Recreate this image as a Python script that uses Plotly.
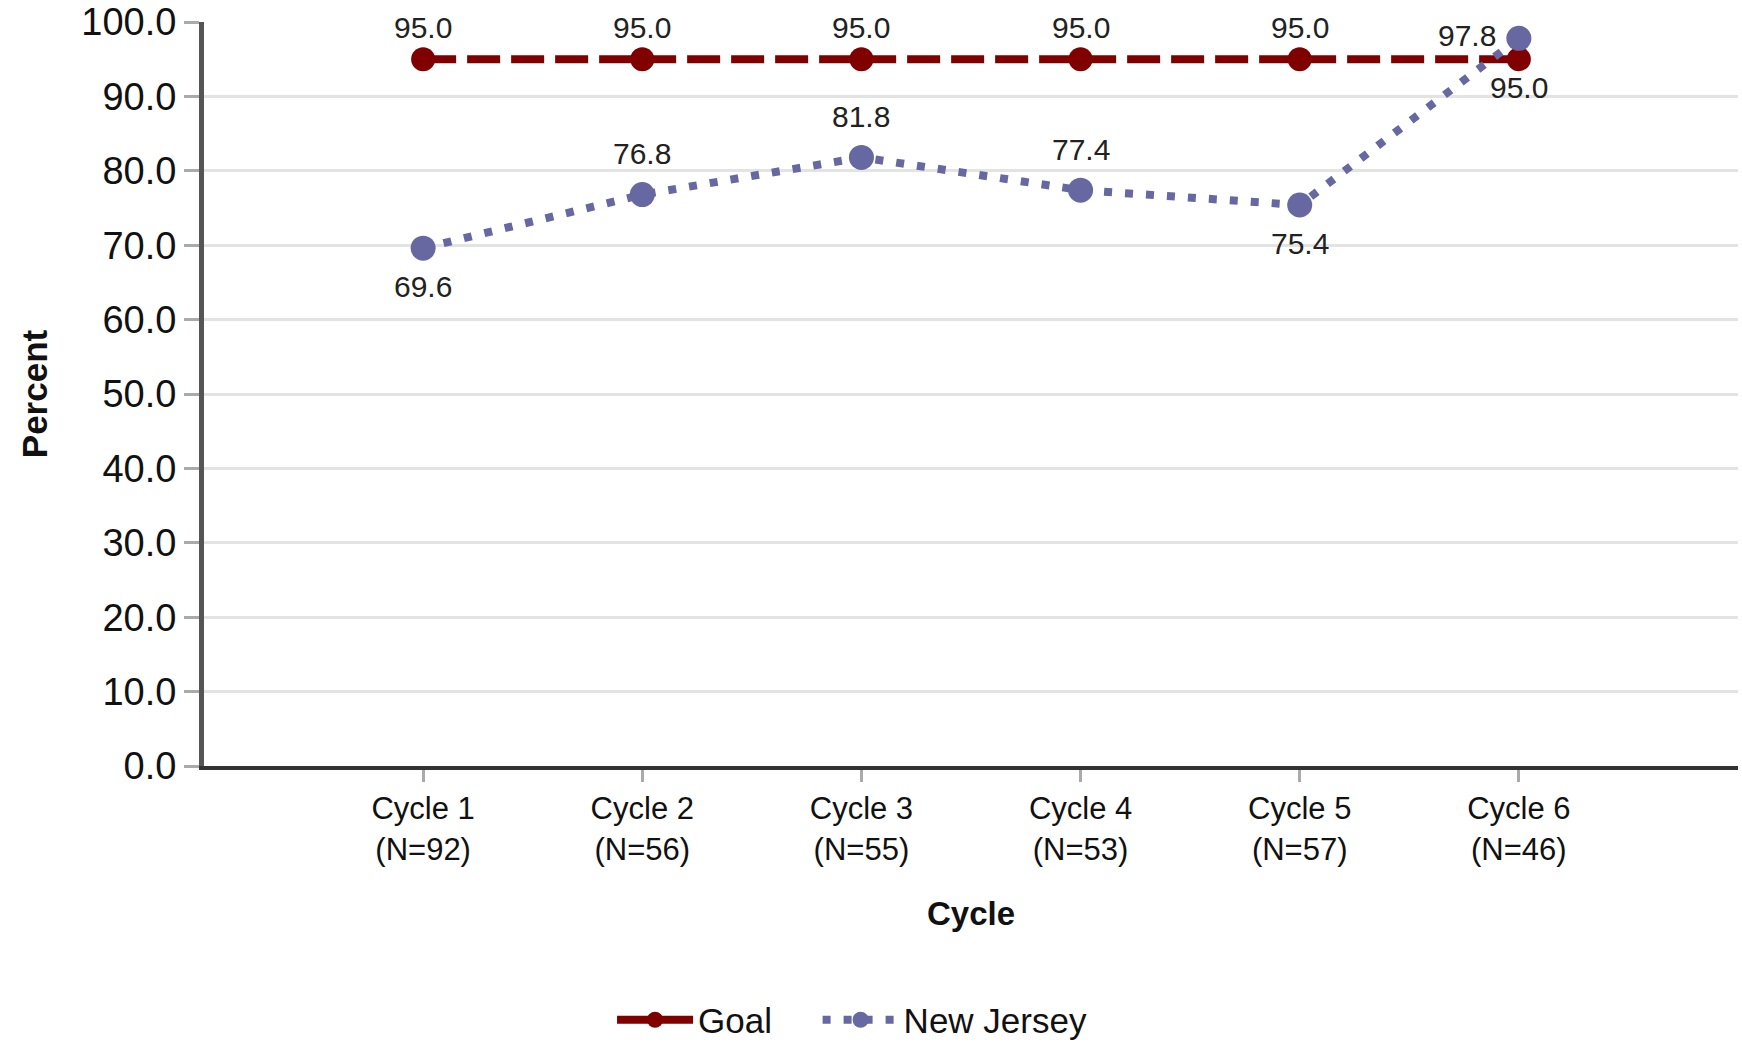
import plotly.graph_objects as go

categories = ["Cycle 1<br>(N=92)", "Cycle 2<br>(N=56)", "Cycle 3<br>(N=55)",
              "Cycle 4<br>(N=53)", "Cycle 5<br>(N=57)", "Cycle 6<br>(N=46)"]
goal_values = [95.0, 95.0, 95.0, 95.0, 95.0, 95.0]
nj_values = [69.6, 76.8, 81.8, 77.4, 75.4, 97.8]
y_ticks = [0, 10, 20, 30, 40, 50, 60, 70, 80, 90, 100]

GOAL_COLOR = "#800000"
NJ_COLOR = "#6767a1"
FONT = "Liberation Sans, Arial, sans-serif"
LABEL_SIZE = 30

# label placement (pixel offsets from the point): (xshift, yshift)
goal_offsets = [(0, 32)] * 5 + [(0, -28)]
nj_offsets = [(0, -38), (0, 41), (0, 41), (0, 41), (0, -38), (-52, 3)]

fig = go.Figure()
fig.add_trace(go.Scatter(
    x=categories, y=goal_values, name="Goal", mode="lines+markers",
    line=dict(color=GOAL_COLOR, width=8, dash="33px,11px"),
    marker=dict(color=GOAL_COLOR, size=24),
    cliponaxis=False, legend="legend",
))
fig.add_trace(go.Scatter(
    x=categories, y=nj_values, name="New Jersey", mode="lines+markers",
    line=dict(color=NJ_COLOR, width=8, dash="8px,13px"),
    marker=dict(color=NJ_COLOR, size=25),
    cliponaxis=False, legend="legend2",
))

annotations = []
for values, offsets in ((goal_values, goal_offsets), (nj_values, nj_offsets)):
    for cat, v, (dx, dy) in zip(categories, values, offsets):
        annotations.append(dict(
            x=cat, y=v, xref="x", yref="y", text=f"{v:.1f}", showarrow=False,
            xanchor="center", yanchor="middle", xshift=dx, yshift=dy,
            font=dict(family=FONT, size=LABEL_SIZE, color="#222222"),
        ))

legend_style = dict(orientation="h", xanchor="left", yref="container", y=0.023, yanchor="middle",
                    font=dict(family=FONT, size=35, color="#111111"), itemwidth=76,
                    bgcolor="rgba(0,0,0,0)")

fig.update_layout(
    width=1742, height=1044,
    margin=dict(l=204, r=4, t=22, b=278),
    plot_bgcolor="white", paper_bgcolor="white",
    font=dict(family=FONT, color="#222222"),
    showlegend=True,
    annotations=annotations,
    legend=dict(x=0.266, **legend_style),
    legend2=dict(x=0.400, **legend_style),
    xaxis=dict(
        type="category", range=[-1, 6], automargin=False,
        showline=True, linecolor="#333333", linewidth=4,
        ticks="outside", ticklen=12, tickwidth=3, tickcolor="#aaaaaa",
        tickfont=dict(family=FONT, size=31, color="#111111"),
        showgrid=False,
        title=dict(text="<b>Cycle</b>", font=dict(family=FONT, size=33, color="#111111"), standoff=37),
    ),
    yaxis=dict(
        range=[0, 100], tickvals=y_ticks, tickformat=".1f", automargin=False,
        ticklabeloverflow="allow",
        showline=True, linecolor="#555555", linewidth=5,
        ticks="outside", ticklen=15, tickwidth=3, tickcolor="#aaaaaa",
        tickfont=dict(family=FONT, size=38, color="#111111"),
        showgrid=True, gridcolor="#e3e3e3", gridwidth=3,
        zeroline=False,
        title=dict(text="<b>Percent</b>", font=dict(family=FONT, size=35, color="#111111"), standoff=25),
    ),
)

# remove the default 8px page margin so the figure fills the window exactly
fig.write_html("out.html", config={"displayModeBar": False},
               post_script="document.body.style.margin='0';")
